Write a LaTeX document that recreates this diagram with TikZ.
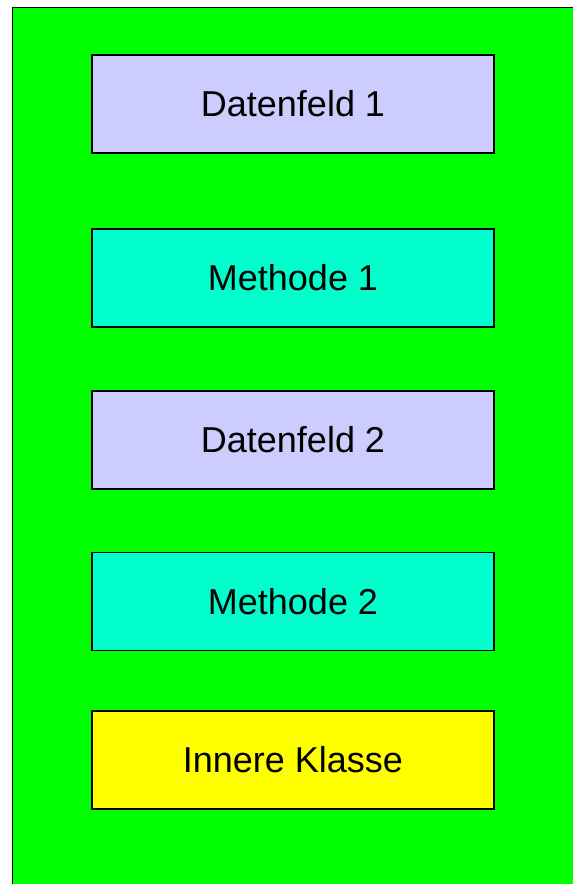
\documentclass[tikz,border=0pt]{standalone}
\usepackage{fontspec}
\setmainfont{Liberation Sans}
\usetikzlibrary{positioning}
\definecolor{Frame}{HTML}{00FF00}
\definecolor{Field}{HTML}{CCCCFF}
\definecolor{Method}{HTML}{00FFCC}
\definecolor{Inner}{HTML}{FFFF00}
\tikzset{
  member/.style={draw=black,line width=0.9pt,minimum width=201pt,minimum height=49pt,inner sep=0pt,font=\fontsize{18}{22}\selectfont},
  field/.style={member,fill=Field},
  method/.style={member,fill=Method},
  inner/.style={member,fill=Inner},
}

\begin{document}
\begin{tikzpicture}[x=0.5pt,y=-0.5pt,line join=miter]
\useasboundingbox (0,0) rectangle (573,884);
\begin{scope}
\clip (0,0) rectangle (573,884);
\filldraw[fill=Frame,draw=black,line width=0.9pt] (12.5,7.5) rectangle (600,900);
\end{scope}
\node[field]  (feld1)  at (293,104)   {Datenfeld 1};
\node[method] (meth1)  at (293,278)   {Methode 1};
\node[field]  (feld2)  at (293,440)   {Datenfeld 2};
\node[method] (meth2)  at (293,601.5) {Methode 2};
\node[inner]  (klasse) at (293,760)   {Innere Klasse};
\end{tikzpicture}
\end{document}
